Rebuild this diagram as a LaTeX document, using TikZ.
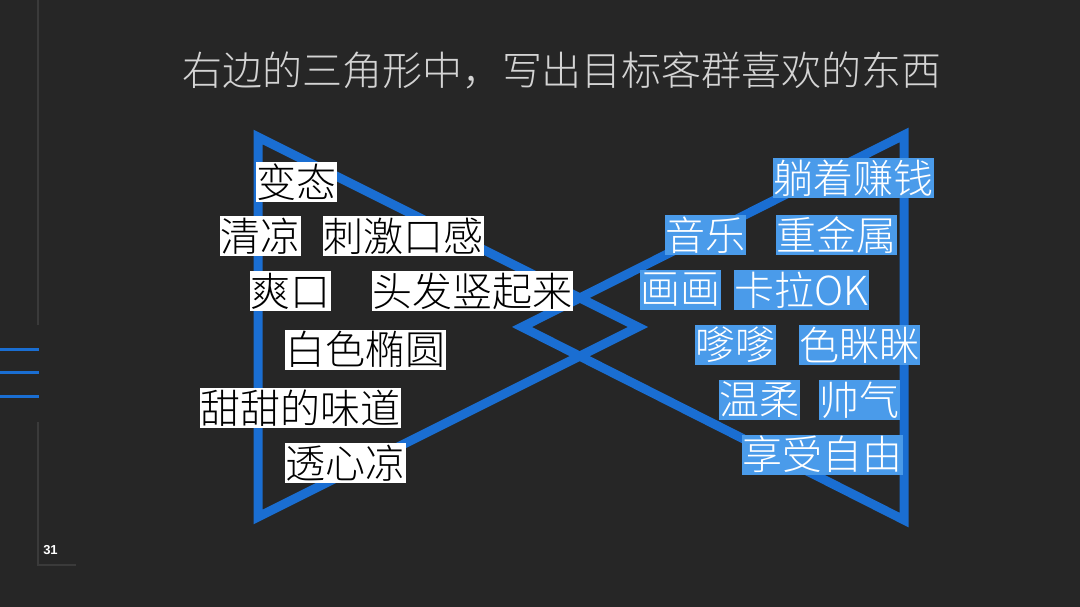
\documentclass[tikz,border=0pt]{standalone}
\usepackage{fontspec}
\newfontfamily\cjk{Noto Sans CJK SC Light}
\newfontfamily\numfont{Liberation Sans}
\definecolor{bg}{HTML}{262626}
\definecolor{triblue}{HTML}{1A6ED2}
\definecolor{boxblue}{HTML}{4A9BEA}
\definecolor{titlegray}{HTML}{D4D4D4}
\definecolor{rulegray}{HTML}{3A3A3A}
\tikzset{
  tri/.style={draw=triblue, line width=9pt, line join=miter},
  cjkbox/.style={font=\cjk\fontsize{40}{40}\selectfont, inner xsep=0.6pt, inner ysep=0pt, minimum height=40pt, anchor=west},
  lbox/.style={cjkbox, fill=white, text=black},
  rbox/.style={cjkbox, fill=boxblue, text=white},
  sideline/.style={draw=rulegray, line width=1.6pt},
  bluebar/.style={draw=triblue, line width=3pt}
}
\begin{document}
\begin{tikzpicture}[x=1pt,y=-1pt]
\useasboundingbox (0,0) rectangle (1080,607);
\fill[bg] (0,0) rectangle (1080,607);
% side decoration
\coordinate (s1) at (38,0);
\coordinate (s2) at (38,325);
\coordinate (s3) at (38,422);
\coordinate (s4) at (38,565);
\coordinate (s5) at (76,565);
\draw[sideline] (s1) -- (s2);
\draw[sideline] (s3) -- (s4) -- (s5);
\foreach \yy/\nm in {349/a,372.5/b,396/c}{
  \coordinate (b\nm0) at (0,\yy);
  \coordinate (b\nm1) at (39,\yy);
  \draw[bluebar] (b\nm0) -- (b\nm1);
}
\node[font=\numfont\bfseries\fontsize{13}{13}\selectfont, text=white] (pnum) at (50.5,550) {31};
% title
\node[font=\cjk\fontsize{40}{40}\selectfont, text=titlegray] (title) at (562,70) {右边的三角形中，写出目标客群喜欢的东西};
% triangles
\coordinate (L1) at (258,137);
\coordinate (L2) at (258,517);
\coordinate (L3) at (638,327);
\coordinate (R1) at (904,135);
\coordinate (R2) at (904,520);
\coordinate (R3) at (522,327);
\draw[tri] (L1) -- (L3) -- (L2) -- cycle;
\draw[tri] (R1) -- (R3) -- (R2) -- cycle;
% left boxes
\node[lbox] (l1) at (256,182) {变态};
\node[lbox] (l2) at (220,236) {清凉};
\node[lbox] (l3) at (323,236) {刺激口感};
\node[lbox] (l4) at (250,291) {爽口};
\node[lbox] (l5) at (372,291) {头发竖起来};
\node[lbox] (l6) at (285,349.5) {白色椭圆};
\node[lbox] (l7) at (200,408) {甜甜的味道};
\node[lbox] (l8) at (285,463) {透心凉};
% right boxes
\node[rbox] (r1) at (773,178) {躺着赚钱};
\node[rbox] (r2) at (665,235) {音乐};
\node[rbox] (r3) at (776,235) {重金属};
\node[rbox] (r4) at (640,290) {画画};
\node[rbox] (r5) at (734,290) {卡拉OK};
\node[rbox] (r6) at (695,345) {嗲嗲};
\node[rbox] (r7) at (799,345) {色眯眯};
\node[rbox] (r8) at (719,400) {温柔};
\node[rbox] (r9) at (819,400) {帅气};
\node[rbox] (r10) at (742,454.5) {享受自由};
\end{tikzpicture}
\end{document}
